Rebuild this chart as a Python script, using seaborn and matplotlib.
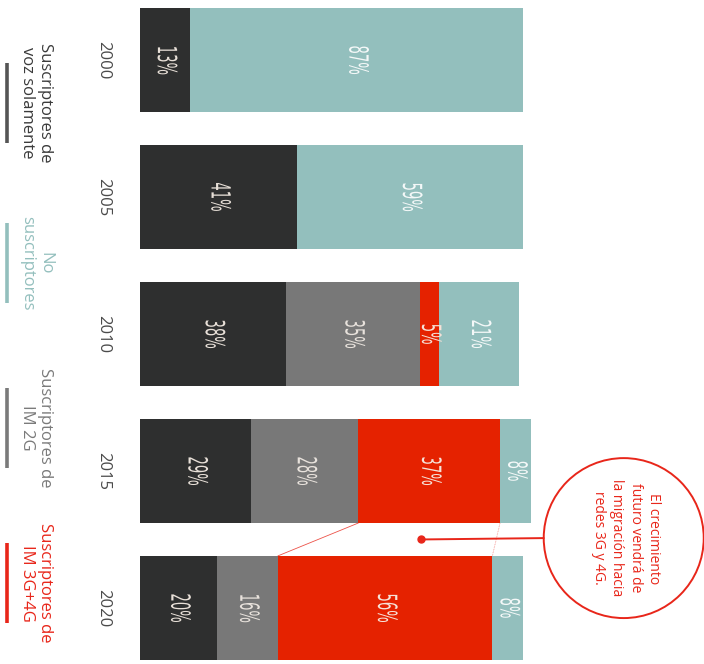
import matplotlib
matplotlib.use("Agg")
import matplotlib.pyplot as plt
from matplotlib.patches import Ellipse
from matplotlib.transforms import Affine2D
from matplotlib import patheffects
import seaborn as sns
import pandas as pd
import numpy as np

# Share of subscribers by technology, per year
years = ["2000", "2005", "2010", "2015", "2020"]
voz_solamente = [13, 41, 38, 29, 20]
im_2g = [0, 0, 35, 28, 16]
im_3g_4g = [0, 0, 5, 37, 56]
no_suscriptores = [87, 59, 21, 8, 8]

series_names = ["Suscriptores de\nvoz solamente", "Suscriptores de\nIM 2G",
                "Suscriptores de\nIM 3G+4G", "No\nsuscriptores"]
series_values = [voz_solamente, im_2g, im_3g_4g, no_suscriptores]
series_colors = ["#2e2f2f", "#787878", "#e52200", "#93bfbd"]
label_colors = ["#e8e0d8", "#e8e2dc", "#f6e2d8", "#f4f8f8"]


class Condensed(patheffects.AbstractPathEffect):
    """Squeeze glyphs along the reading direction, keeping the line centred."""

    def __init__(self, factor):
        super().__init__()
        self.factor = factor

    def draw_path(self, renderer, gc, tpath, affine, rgbFace=None):
        ext = tpath.get_extents()
        cx = 0.5 * (ext.x0 + ext.x1)
        squeeze = Affine2D().translate(-cx, 0).scale(self.factor, 1).translate(cx, 0)
        renderer.draw_path(gc, tpath, squeeze + affine, rgbFace)


sns.set_theme(style="white")
plt.rcParams["font.family"] = ["Open Sans", "DejaVu Sans"]

fig = plt.figure(figsize=(7.04, 6.64), dpi=100)
ax = fig.add_axes([140 / 704, 4 / 664, 383 / 704, 652 / 664])

# Stacked horizontal bars: draw cumulative totals from the last series back
df = pd.DataFrame({"year": years})
cum = np.zeros(len(years))
cums = []
for vals in series_values:
    cum = cum + np.array(vals)
    cums.append(cum.copy())
for i in range(len(series_values) - 1, -1, -1):
    df["cum"] = cums[i]
    sns.barplot(data=df, x="cum", y="year", orient="h", color=series_colors[i],
                saturation=1, width=0.76, linewidth=0, ax=ax, order=years)
for p in ax.patches:
    p.set_clip_on(False)

# Segment labels
for i, vals in enumerate(series_values):
    starts = cums[i] - np.array(vals)
    for j, v in enumerate(vals):
        if v <= 0:
            continue
        ax.text(starts[j] + v / 2, j, f"{v}%", rotation=270, ha="center",
                va="center", fontsize=19, color=label_colors[i],
                family="DejaVu Sans", path_effects=[Condensed(0.5)])

# Year labels
for j, y in enumerate(years):
    ax.text(-9.6, j, y, rotation=270, ha="center", va="center",
            fontsize=12, color="#4a4a4a", clip_on=False)

ax.set_xlim(0, 100)
ax.set_ylim(4.38, -0.38)
ax.axis("off")

# Legend, drawn as rotated captions with a coloured rule beside each
legend_order = [0, 3, 1, 2]
legend_centers = [103, 263, 428, 583]
legend_text_colors = ["#3a3a3a", "#93bfbd", "#7a7a7a", "#e8261a"]
rule_colors = ["#555555", "#93bfbd", "#7a7a7a", "#e8261a"]
for k, idx in enumerate(legend_order):
    yc = 1 - legend_centers[k] / 664
    fig.text(36 / 704, yc, series_names[idx], rotation=270, ha="center",
             va="center", fontsize=12, color=legend_text_colors[k],
             fontweight="medium", linespacing=1.15, multialignment="center")
    fig.add_artist(plt.Line2D([7 / 704, 7 / 704],
                              [yc - 40 / 664, yc + 40 / 664],
                              transform=fig.transFigure, color=rule_colors[k],
                              linewidth=2.6, solid_capstyle="butt"))

# Growth connectors from 2015 to 2020 for the 3G+4G segment
red = "#e8261a"
s15 = voz_solamente[3] + im_2g[3]
s20 = voz_solamente[4] + im_2g[4]
e15 = s15 + im_3g_4g[3]
e20 = s20 + im_3g_4g[4]
ax.plot([s15, s20], [3.38, 3.62], color=red, linewidth=0.6, alpha=0.8)
ax.plot([e15, e20], [3.38, 3.62], color=red, linewidth=0.6, alpha=0.5,
        linestyle=(0, (1, 1)))

# Callout
dot_x, dot_y = 73.4, 3.5
cx, cy = 126.3, 3.49
rx, ry = 80 / 3.83, 80 / 137
ax.plot([dot_x, cx - rx], [dot_y, cy], color=red, linewidth=1.4, clip_on=False)
ax.plot([dot_x], [dot_y], marker="o", markersize=5, color=red, clip_on=False)
ax.add_patch(Ellipse((cx, cy), 2 * rx, 2 * ry, fill=False, edgecolor=red,
                     linewidth=1.4, clip_on=False))
ax.text(cx + 0.6, cy, "El crecimiento\nfuturo vendrá de\nla migración hacia\nredes 3G y 4G.",
        rotation=270, ha="center", va="center", multialignment="center",
        fontsize=10, color=red, linespacing=1.3, clip_on=False)

fig.savefig("out.png", dpi=100)
